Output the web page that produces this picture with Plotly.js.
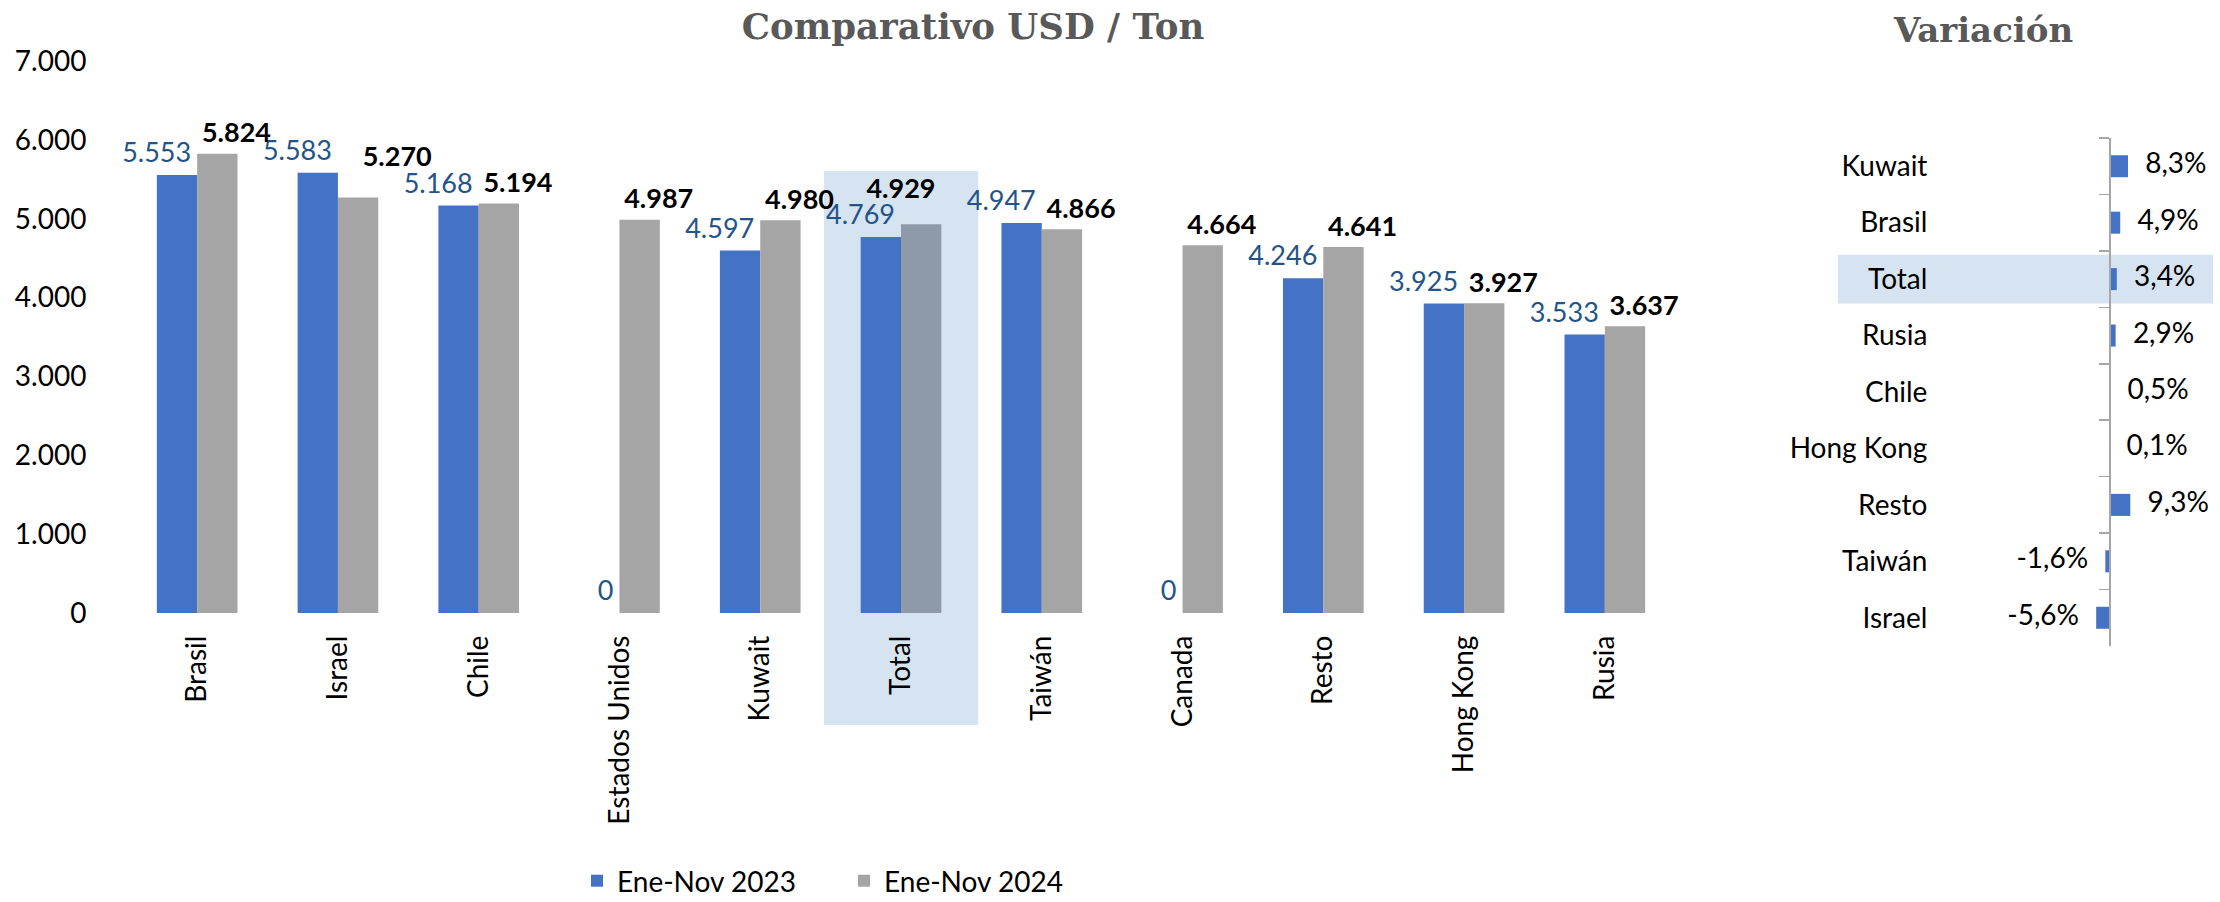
<!DOCTYPE html>
<html>
<head>
<meta charset="utf-8">
<script src="https://cdn.plot.ly/plotly-3.0.0.min.js"></script>
<style>html,body{margin:0;padding:0;background:#fff;}#chart{width:2220px;height:902px;}</style>
</head>
<body>
<div id="chart"></div>
<script>
// ---- data ----
const categories = ['Brasil','Israel','Chile','Estados Unidos','Kuwait','Total','Taiwán','Canada','Resto','Hong Kong','Rusia'];
const values2023 = [5553, 5583, 5168, 0, 4597, 4769, 4947, 0, 4246, 3925, 3533];
const values2024 = [5824, 5270, 5194, 4987, 4980, 4929, 4866, 4664, 4641, 3927, 3637];
const seriesNames = ['Ene-Nov 2023', 'Ene-Nov 2024'];
const varCategories = ['Kuwait','Brasil','Total','Rusia','Chile','Hong Kong','Resto','Taiwán','Israel'];
const varValues = [8.3, 4.9, 3.4, 2.9, 0.5, 0.1, 9.3, -1.6, -5.6];
const yTicks = [0, 1000, 2000, 3000, 4000, 5000, 6000, 7000];

// ---- styling helpers ----
const W = 2220, H = 902;
const px = v => v / W;
const py = v => 1 - v / H;
const FONT = 'Lato, "Open Sans", sans-serif';
const BLUE = '#4472c4', GRAY = '#a5a5a5', GRAY_TOTAL = '#8e9aa8', HILITE = '#d6e3f0';
const highlight = 'Total';
// extra label padding (invisible marker size) for crowded 2024 labels, and their anchor
const labelPad2024 = {Israel: 38, Total: 30};
const labelPos2024 = {Total: 'top center'};

const fmtPct = v => v.toFixed(1).replace('.', ',') + '%';

const traces = [
  {
    type: 'bar', name: seriesNames[0], x: categories, y: values2023,
    marker: {color: BLUE}, xaxis: 'x', yaxis: 'y', hoverinfo: 'x+y'
  },
  {
    type: 'bar', name: seriesNames[1], x: categories, y: values2024,
    marker: {color: categories.map(c => c === highlight ? GRAY_TOTAL : GRAY)},
    xaxis: 'x', yaxis: 'y', hoverinfo: 'x+y'
  },
  {
    type: 'scatter', mode: 'markers+text', x: categories, y: values2023,
    texttemplate: '%{y:,d}', textposition: 'top left', cliponaxis: false,
    marker: {size: 8, opacity: 0},
    textfont: {family: FONT, size: 27, color: '#22548a'},
    showlegend: false, hoverinfo: 'skip', xaxis: 'x', yaxis: 'y'
  },
  {
    type: 'scatter', mode: 'markers+text', x: categories, y: values2024,
    texttemplate: '%{y:,d}', cliponaxis: false,
    textposition: categories.map(c => labelPos2024[c] || 'top right'),
    marker: {size: categories.map(c => labelPad2024[c] || 6), opacity: 0},
    textfont: {family: FONT, size: 27, color: '#000000', weight: 'bold'},
    showlegend: false, hoverinfo: 'skip', xaxis: 'x', yaxis: 'y'
  },
  {
    type: 'bar', orientation: 'h', x: varValues, y: varCategories,
    width: 0.39, offset: -0.195,
    marker: {color: BLUE}, showlegend: false, xaxis: 'x2', yaxis: 'y2', hoverinfo: 'x+y'
  },
  {
    type: 'scatter', mode: 'markers+text', x: varValues, y: varCategories,
    text: varValues.map(fmtPct),
    textposition: varValues.map(v => v >= 0 ? 'middle right' : 'middle left'),
    marker: {size: 26, opacity: 0}, cliponaxis: false,
    textfont: {family: FONT, size: 28, color: '#000000'},
    showlegend: false, hoverinfo: 'skip', xaxis: 'x2', yaxis: 'y2'
  }
];

const layout = {
  width: W, height: H,
  margin: {l: 0, r: 0, t: 0, b: 0, autoexpand: false},
  paper_bgcolor: '#ffffff', plot_bgcolor: 'rgba(0,0,0,0)',
  separators: ',.',
  barmode: 'group', bargap: 0.427, bargroupgap: 0,
  font: {family: FONT, size: 28, color: '#000000'},
  title: {
    text: 'Comparativo USD / Ton',
    font: {family: '"DejaVu Serif", serif', size: 35.5, color: '#595959', weight: 'bold'},
    x: px(973), xanchor: 'center', xref: 'paper',
    y: py(27), yanchor: 'middle', yref: 'container'
  },
  annotations: [{
    text: 'Variación', showarrow: false, xref: 'paper', yref: 'paper',
    x: px(1983), y: py(30), xanchor: 'center', yanchor: 'middle',
    font: {family: '"DejaVu Serif", serif', size: 34, color: '#595959', weight: 'bold'}
  }],
  xaxis: {
    domain: [px(113.4), px(1688.6)], anchor: 'y', type: 'category',
    tickangle: -90, tickfont: {family: FONT, size: 28, color: '#000'},
    showline: false, showgrid: false, zeroline: false, ticks: '',
    ticklabelstandoff: 16, fixedrange: true
  },
  yaxis: {
    domain: [py(613), py(61)], anchor: 'x', range: [0, 7000],
    tickvals: yTicks, tickformat: ',d',
    tickfont: {family: FONT, size: 28, color: '#000'},
    showline: false, showgrid: false, zeroline: false, ticks: '',
    ticklabelstandoff: 26, fixedrange: true
  },
  xaxis2: {
    domain: [px(1930), px(2215)], anchor: 'y2',
    range: [-(2109 - 1930) / 2.29, (2215 - 2109) / 2.29],
    visible: false, showgrid: false, zeroline: false, fixedrange: true
  },
  yaxis2: {
    domain: [py(646), py(138)], anchor: 'free', position: px(2109),
    type: 'category', categoryorder: 'array', categoryarray: varCategories,
    range: [8.5, -0.5],
    showline: true, linecolor: '#a6a6a6', linewidth: 1.5,
    ticks: 'outside', tickson: 'boundaries', ticklen: 10, tickcolor: '#a6a6a6', tickwidth: 1.5,
    showgrid: false, zeroline: false,
    tickfont: {family: FONT, size: 28, color: '#000'},
    ticklabelstandoff: 176, fixedrange: true
  },
  shapes: [
    {
      type: 'rect', layer: 'below', xref: 'x', yref: 'paper',
      x0: categories.indexOf(highlight) - 0.548, x1: categories.indexOf(highlight) + 0.548,
      y0: py(725), y1: py(171), fillcolor: HILITE, line: {width: 0}
    },
    {
      type: 'rect', layer: 'below', xref: 'paper', yref: 'y2',
      x0: px(1838), x1: px(2213),
      y0: varCategories.indexOf(highlight) - 0.43, y1: varCategories.indexOf(highlight) + 0.43,
      fillcolor: HILITE, line: {width: 0}
    }
  ],
  legend: {
    orientation: 'h', x: px(577), xanchor: 'left', y: py(856), yanchor: 'top',
    font: {family: FONT, size: 28, color: '#000'},
    bgcolor: 'rgba(0,0,0,0)', entrywidth: 222, entrywidthmode: 'pixels'
  },
  showlegend: true
};

Plotly.newPlot('chart', traces, layout, {displayModeBar: false, staticPlot: true});
</script>
</body>
</html>
